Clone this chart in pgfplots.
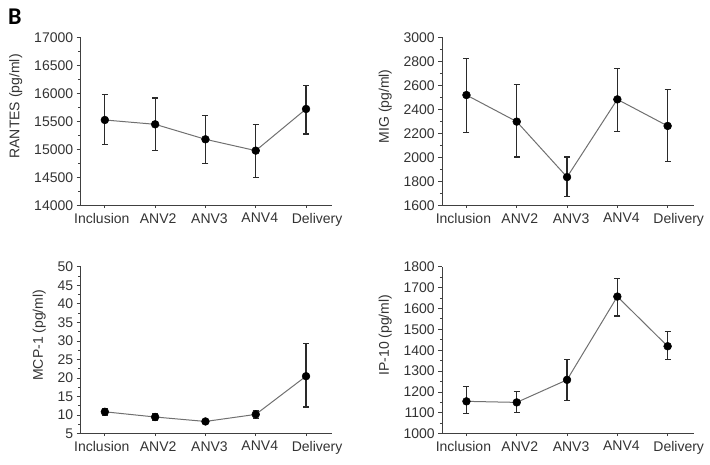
\documentclass[border=0pt]{standalone}
\usepackage{fontspec}
\setmainfont{Liberation Sans}
\newfontfamily\panelfont{Carlito}
\usepackage{pgfplots}
\usepackage{pgfplotstable}
\pgfplotsset{compat=1.18}

\definecolor{txt}{HTML}{333333}
\definecolor{conn}{HTML}{707070}
\definecolor{errc}{HTML}{2A2A2A}

% x = visit, y = mean, ep/em = upper/lower error
\pgfplotstableread{
x y ep em
1 15527 458 433
2 15450 469 469
3 15183 427 428
4 14981 469 475
5 15723 422 445
}\rantes

\pgfplotstableread{
x y ep em
1 2520 305 313
2 2299 305 294
3 1838 167 163
4 2484 253 266
5 2263 305 294
}\mig

\pgfplotstableread{
x y ep em
1 10.9 1.0 1.0
2 9.5 1.0 1.0
3 8.3 0.5 0.5
4 10.2 1.0 1.0
5 20.5 8.8 8.3
}\mcp

\pgfplotstableread{
x y ep em
1 1155 70 59
2 1150 52 48
3 1258 96 97
4 1657 87 93
5 1419 70 65
}\ipten

\pgfplotsset{
  panel/.style={
    scale only axis,
    width=251.5pt,
    xmin=0.52, xmax=5.52,
    axis lines*=left,
    axis line style={black!75, line width=0.9pt},
    xtick={0.94,2.06,3.08,4.08,5.22},
    xticklabels={Inclusion,ANV2,ANV3,ANV4,Delivery},
    major x tick style={draw=none},
    minor xtick={1,2,3,4,5},
    minor y tick num=1,
    tick align=outside,
    major tick length=4pt,
    minor tick length=2.5pt,
    tick style={black!75, line width=0.8pt},
    scaled y ticks=false,
    ticklabel style={font=\fontsize{14}{16}\selectfont, text=txt},
    /pgf/number format/assume math mode=true,
    /pgf/number format/1000 sep={},
    label style={font=\fontsize{14}{16}\selectfont, text=txt},
    ylabel style={at={(ticklabel cs:0.59,5pt)}, anchor=south},
    clip=false,
  },
  series/.style={
    conn, line width=1pt,
    mark=*, mark size=3.9pt,
    mark options={fill=black, draw=black, line width=0.5pt},
    error bars/y dir=both,
    error bars/y explicit,
    error bars/error bar style={errc, line width=1.1pt},
    error bars/error mark options={errc, line width=1.1pt, mark size=3pt, rotate=90},
  },
}

\begin{document}
\begin{tikzpicture}
\useasboundingbox (0,0) rectangle (710pt,-465pt);
\node[anchor=base west, inner sep=0pt, font=\panelfont\bfseries\fontsize{24}{26}\selectfont]
  at (8pt,-25pt) {B};

\begin{axis}[panel, at={(80.7pt,-205.7pt)}, anchor=south west, height=168.4pt,
  ymin=14000, ymax=17000, ytick={14000,14500,...,17000},
  ylabel={RANTES (pg/ml)}]
\addplot[series] table[x=x, y=y, y error plus=ep, y error minus=em] {\rantes};
\end{axis}

\begin{axis}[panel, at={(442.3pt,-205.7pt)}, anchor=south west, height=168.4pt,
  ymin=1600, ymax=3000, ytick={1600,1800,...,3000},
  ylabel={MIG (pg/ml)}]
\addplot[series] table[x=x, y=y, y error plus=ep, y error minus=em] {\mig};
\end{axis}

\begin{axis}[panel, at={(80.7pt,-433.7pt)}, anchor=south west, height=167pt,
  ymin=5, ymax=50, ytick={5,10,...,50},
  ylabel={MCP-1 (pg/ml)}]
\addplot[series] table[x=x, y=y, y error plus=ep, y error minus=em] {\mcp};
\end{axis}

\begin{axis}[panel, at={(442.3pt,-433.7pt)}, anchor=south west, height=167pt,
  ymin=1000, ymax=1800, ytick={1000,1100,...,1800},
  ylabel={IP-10 (pg/ml)}]
\addplot[series] table[x=x, y=y, y error plus=ep, y error minus=em] {\ipten};
\end{axis}
\end{tikzpicture}
\end{document}
